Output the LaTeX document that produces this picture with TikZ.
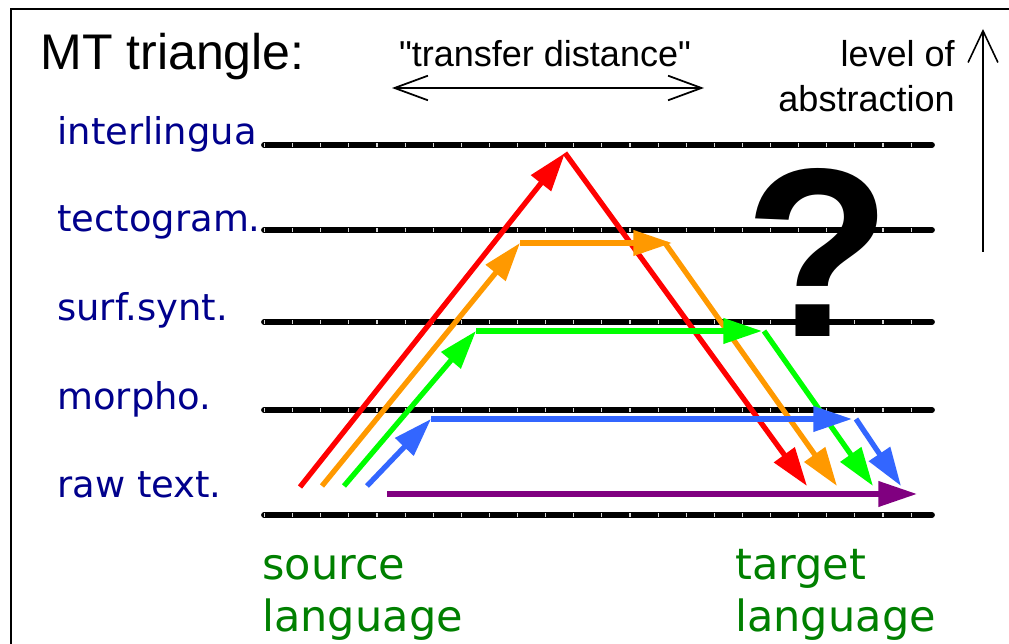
\documentclass[tikz,border=0pt]{standalone}
\usepackage{fontspec}
\setmainfont{Liberation Sans}
\newfontfamily\qfont{Liberation Sans}
\newfontfamily\dv{DejaVu Sans}
\usetikzlibrary{arrows.meta}
\definecolor{lvlblue}{RGB}{0,0,140}
\definecolor{srcgreen}{RGB}{0,128,0}
\definecolor{arred}{RGB}{255,0,0}
\definecolor{arorange}{RGB}{255,153,0}
\definecolor{argreen}{RGB}{0,255,0}
\definecolor{arblue}{RGB}{51,102,255}
\definecolor{arpurple}{RGB}{128,0,128}
\begin{document}
\begin{tikzpicture}[x=0.02cm,y=-0.02cm,
 lvl/.style={font=\dv\fontsize{21}{25}\selectfont, text=lvlblue, anchor=base west, inner sep=0},
 lang/.style={font=\dv\fontsize{24.5}{29}\selectfont, text=srcgreen, anchor=base west, inner sep=0},
 hdr/.style={font=\qfont\fontsize{20.5}{24}\selectfont, inner sep=0},
 levelline/.style={line width=3.3pt, black, line cap=round},
 levelgap/.style={line width=2pt, gray!30, dash pattern=on 0.6pt off 15.4pt},
 flow/.style={line width=3pt, -{Triangle[length=22pt,width=14pt]}},
 thinarrow/.style={line width=1pt, {Straight Barb[length=19pt,width=14pt]}-{Straight Barb[length=19pt,width=14pt]}},
]
\useasboundingbox (0,0) rectangle (1009,644);
\fill[white] (0,0) rectangle (1009,644);
% frame
\coordinate (FB) at (11,660);
\coordinate (FC) at (11,9);
\coordinate (FR) at (1020,9);
\draw[line width=1.3pt] (FB) -- (FC) -- (FR);

% header
\node[font=\fontsize{28.5}{33}\selectfont, anchor=base west, inner sep=0] (title) at (40,70) {MT triangle:};
\node[hdr, anchor=base] (td) at (545,67) {"transfer distance"};
\coordinate (tdL) at (392,88);
\coordinate (tdR) at (704,88);
\draw[thinarrow] (tdL) -- (tdR);
\node[hdr, anchor=base east] (lvlof) at (955,67) {level of};
\node[hdr, anchor=base east] (abstr) at (955,112) {abstraction};
\coordinate (upB) at (983,252);
\coordinate (upT) at (983,29);
\draw[line width=0.9pt, -{Straight Barb[length=18pt,width=17pt]}] (upB) -- (upT);

% levels
\foreach \nm/\txt/\ty/\ly in {inter/interlingua/145/145, tecto/tectogram./232/230, surf/surf.synt./321/322, morph/morpho./410/410, raw/raw text./498/515} {
  \node[lvl] (L\nm) at (57,\ty) {\txt};
  \coordinate (A\nm) at (264,\ly);
  \coordinate (B\nm) at (932,\ly);
  \draw[levelline] (A\nm) -- (B\nm);
  \draw[levelgap] (A\nm) -- (B\nm);
}

% question mark
\node[font=\bfseries\fontsize{137}{140}\selectfont, anchor=base, inner sep=0] (qm) at (818,337) {?};

% red
\coordinate (R0) at (300,487);
\coordinate (R1) at (565,153);
\coordinate (R2) at (807,486);
\draw[flow, arred] (R0) -- (R1);
\draw[flow, arred] (R1) -- (R2);
% orange
\coordinate (O0) at (322,486);
\coordinate (O1) at (520,243);
\coordinate (O2) at (672,243);
\coordinate (O2s) at (665,243);
\coordinate (O3) at (837,486);
\draw[flow, arorange] (O0) -- (O1);
\draw[flow, arorange] (O1) -- (O2);
\draw[flow, arorange] (O2s) -- (O3);
% green
\coordinate (G0) at (344,486);
\coordinate (G1) at (476,331);
\coordinate (G2) at (762,331);
\coordinate (G2s) at (764,331);
\coordinate (G3) at (873,486);
\draw[flow, argreen] (G0) -- (G1);
\draw[flow, argreen] (G1) -- (G2);
\draw[flow, argreen] (G2s) -- (G3);
% blue
\coordinate (B0) at (367,486);
\coordinate (B1) at (431,419);
\coordinate (B2) at (852,419);
\coordinate (B2s) at (856,419);
\coordinate (B3) at (901,486);
\draw[flow, arblue] (B0) -- (B1);
\draw[flow, arblue] (B1) -- (B2);
\draw[flow, arblue] (B2s) -- (B3);
% purple
\coordinate (P0) at (387,494);
\coordinate (P1) at (917,494);
\draw[flow, arpurple] (P0) -- (P1);

% languages
\node[lang] (src1) at (262,580) {source};
\node[lang] (src2) at (262,632) {language};
\node[lang] (tgt1) at (735,580) {target};
\node[lang] (tgt2) at (735,632) {language};
\end{tikzpicture}
\end{document}
